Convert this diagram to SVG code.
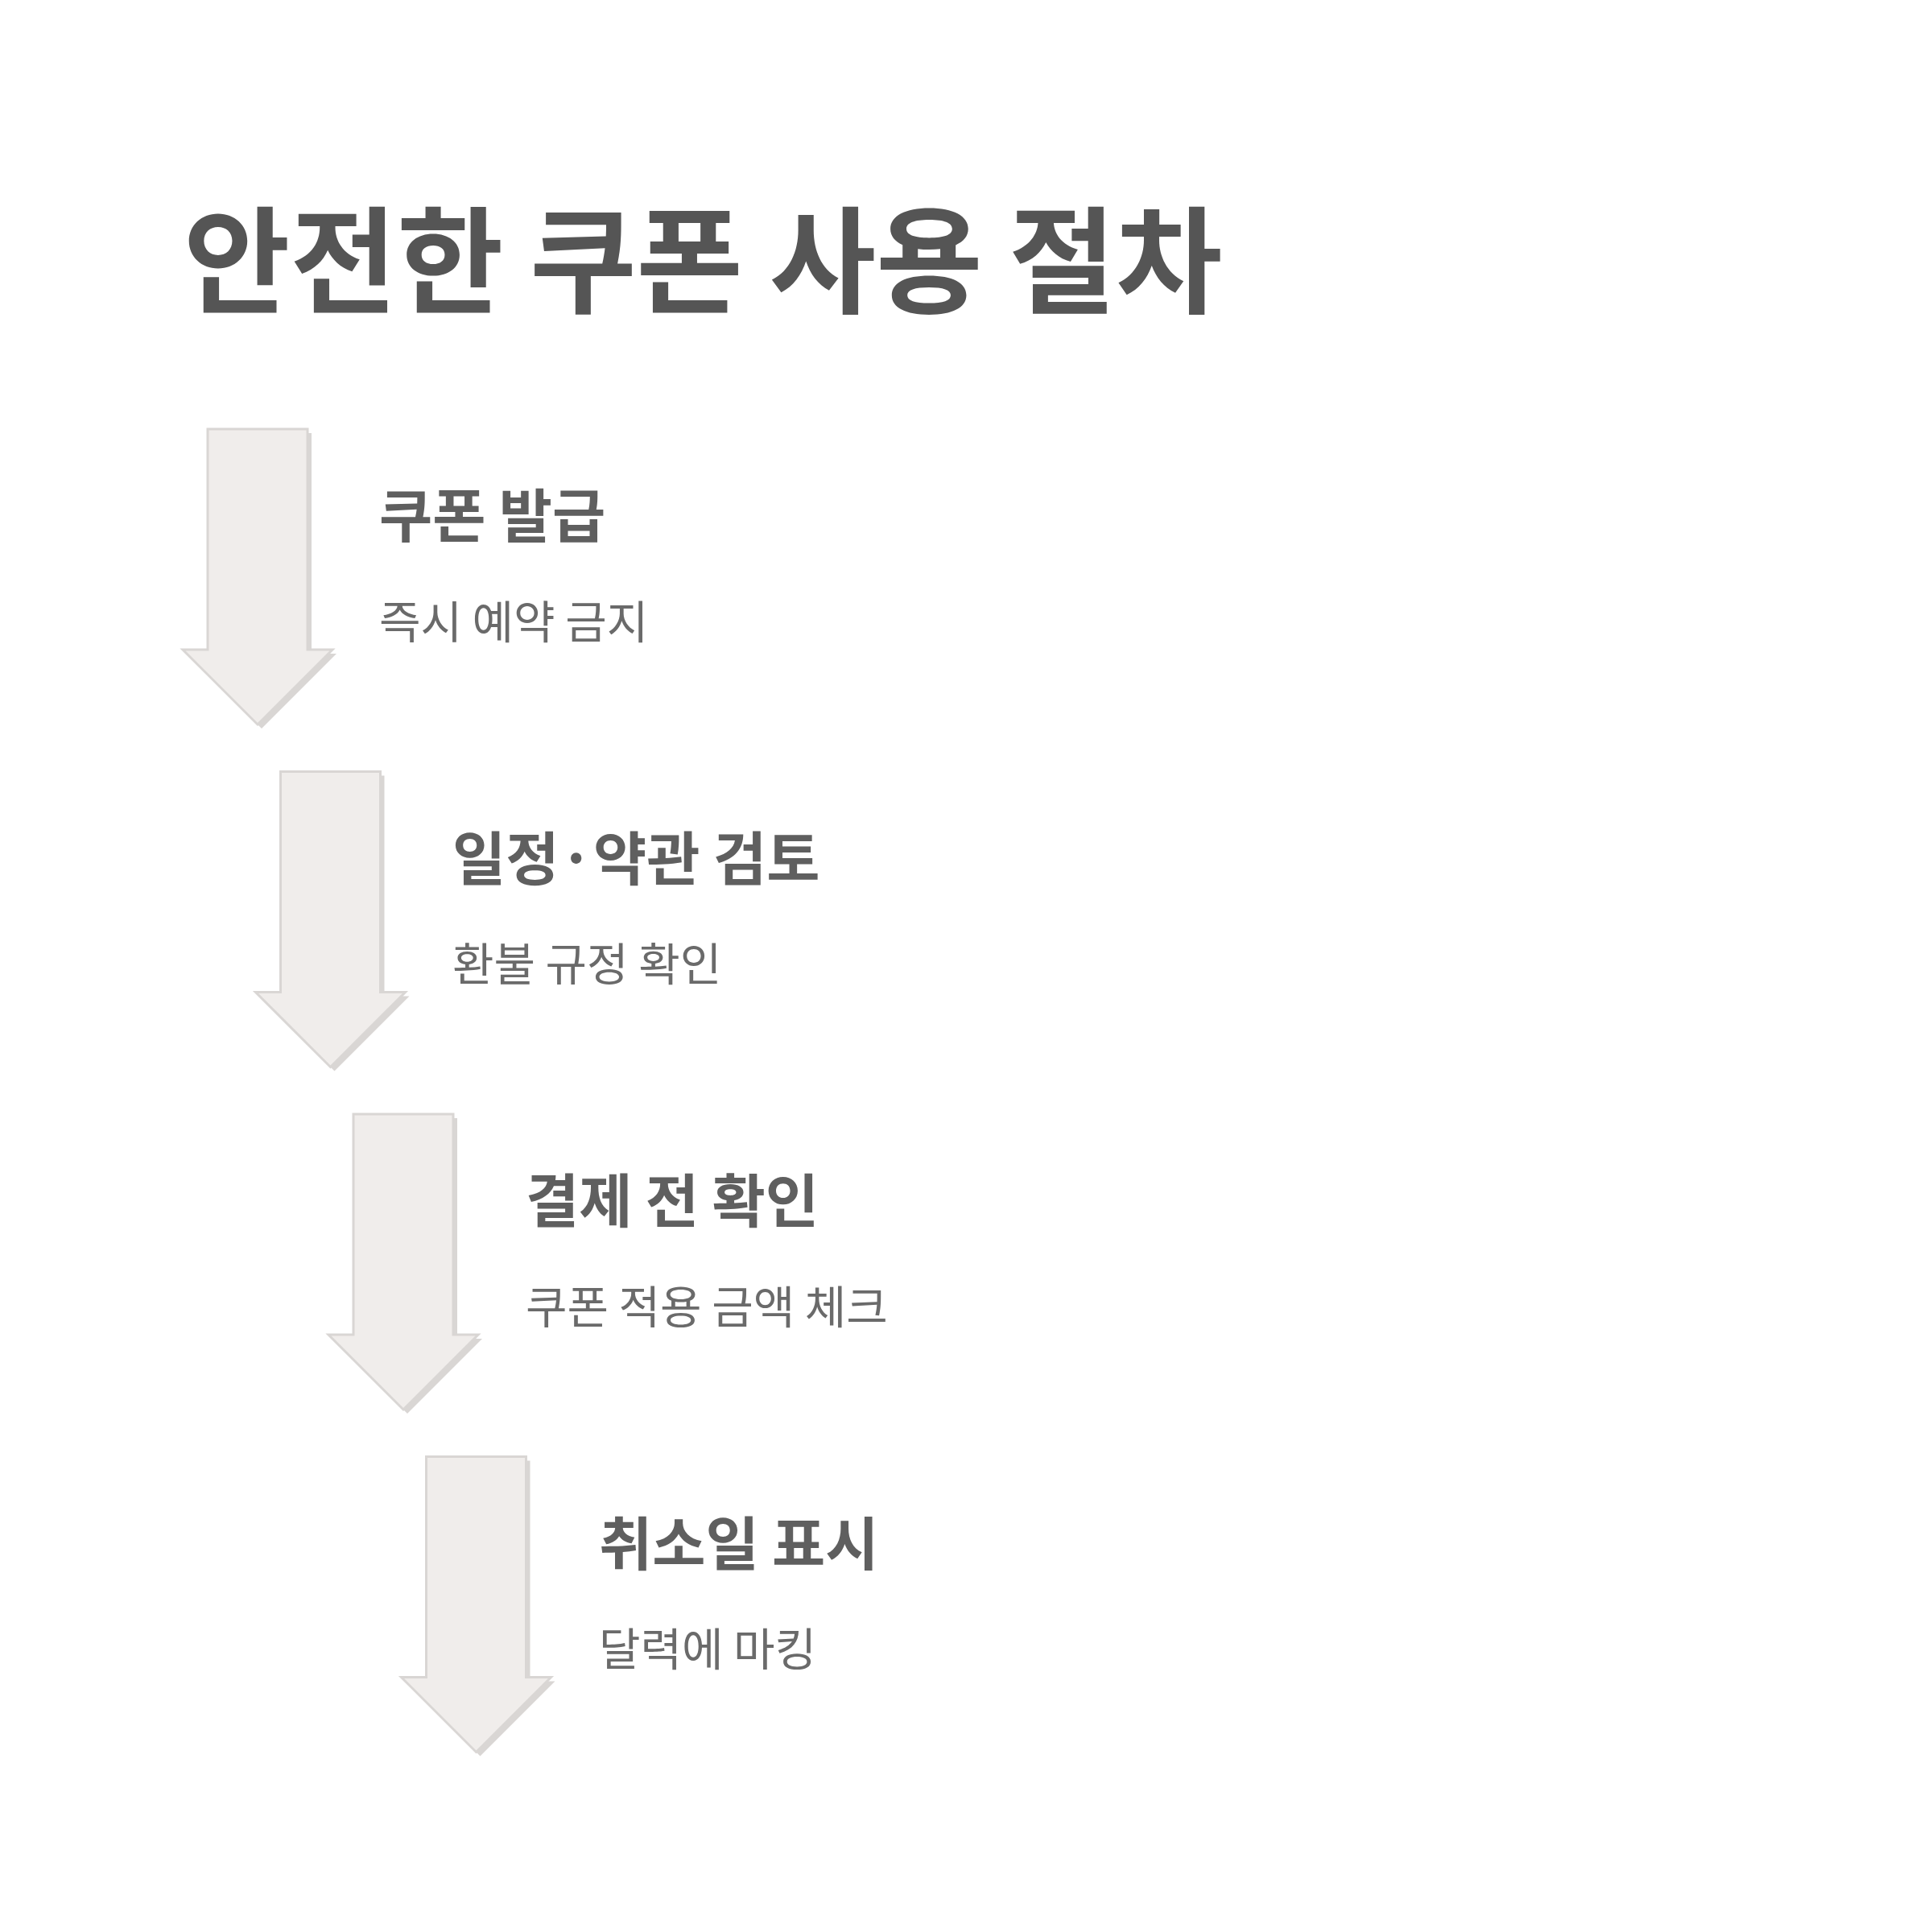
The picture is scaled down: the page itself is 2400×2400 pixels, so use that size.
<svg xmlns="http://www.w3.org/2000/svg" width="2400" height="2400" viewBox="0 0 2400 2400">
<style>
.t{font-family:"Noto Sans CJK KR","Noto Sans",sans-serif;font-weight:700;font-size:144px;fill:#555}
.h{font-family:"Noto Sans CJK KR","Noto Sans",sans-serif;font-weight:700;font-size:72px;fill:#5f5f5f}
.s{font-family:"Noto Sans CJK KR","Noto Sans",sans-serif;font-size:56px;fill:#6a6a6a}
.sh{fill:#d9d6d4}
.ar{fill:#f0edeb;stroke:#d9d6d4;stroke-width:3}
</style>
<defs>
<polygon id="a" points="258,533 382,533 382,807 413,807 320,900 227,807 258,807"/>
</defs>
<rect width="2400" height="2400" fill="#fff"/>
<text class="t" x="228" y="378">안전한 쿠폰 사용 절차</text>
<g id="connectors">
<g transform="translate(0,0)"><use href="#a" class="sh" x="5" y="5"/><use href="#a" class="ar"/></g>
<g transform="translate(90.5,425.5)"><use href="#a" class="sh" x="5" y="5"/><use href="#a" class="ar"/></g>
<g transform="translate(181,851)"><use href="#a" class="sh" x="5" y="5"/><use href="#a" class="ar"/></g>
<g transform="translate(271.5,1276.5)"><use href="#a" class="sh" x="5" y="5"/><use href="#a" class="ar"/></g>
</g>
<g id="step1"><text class="h" x="471" y="667">쿠폰 발급</text><text class="s" x="471" y="793">즉시 예약 금지</text></g>
<g id="step2"><text class="h" x="562" y="1093">일정·약관 검토</text><text class="s" x="562" y="1218">환불 규정 확인</text></g>
<g id="step3"><text class="h" x="653" y="1518">결제 전 확인</text><text class="s" x="653" y="1644">쿠폰 적용 금액 체크</text></g>
<g id="step4"><text class="h" x="744" y="1944">취소일 표시</text><text class="s" x="744" y="2069">달력에 마킹</text></g>
</svg>
